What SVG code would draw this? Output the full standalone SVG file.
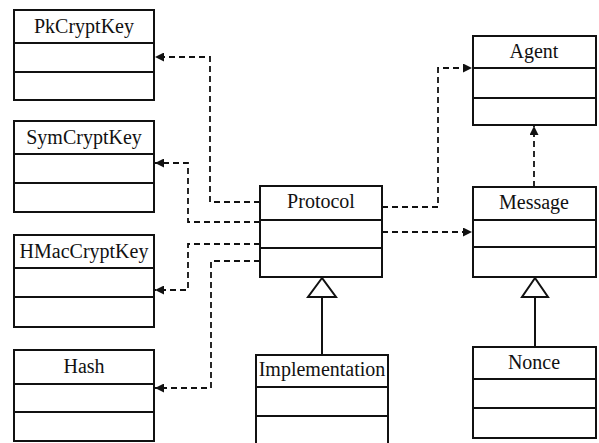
<svg xmlns="http://www.w3.org/2000/svg" width="599" height="443" viewBox="0 0 599 443">
<style>
.box rect{fill:#fff;stroke:#111;stroke-width:2}
.box line{stroke:#111;stroke-width:1.8}
.box text{font-family:"Liberation Serif","Times New Roman",serif;font-size:20px;fill:#111;text-anchor:middle}
.dep{fill:none;stroke:#111;stroke-width:1.8;stroke-dasharray:6,4}
.gen{fill:none;stroke:#111;stroke-width:2}
.tri{fill:#fff;stroke:#111;stroke-width:2}
</style>
<defs>
<marker id="ah" viewBox="0 0 10 10" refX="10" refY="5" markerWidth="9" markerHeight="9" markerUnits="userSpaceOnUse" orient="auto">
<path d="M0,0 L10,5 L0,10 z" fill="#111"/>
</marker>
</defs>
<rect width="599" height="443" fill="#fff"/>
<g id="connectors">
<polyline class="dep" points="260,202 210,202 210,57 155,57" marker-end="url(#ah)"/>
<polyline class="dep" points="260,222 188,222 188,163 155,163" marker-end="url(#ah)"/>
<polyline class="dep" points="260,244 188,244 188,290 155,290" marker-end="url(#ah)"/>
<polyline class="dep" points="260,261 211,261 211,388 155,388" marker-end="url(#ah)"/>
<polyline class="dep" points="382,207 438,207 438,68 472,68" marker-end="url(#ah)"/>
<polyline class="dep" points="382,232 472,232" marker-end="url(#ah)"/>
<polyline class="dep" points="534,187 534,126" marker-end="url(#ah)"/>
<line class="gen" x1="322" y1="297" x2="322" y2="355"/>
<polygon class="tri" points="322,278 308,297 336,297"/>
<line class="gen" x1="535" y1="297" x2="535" y2="347"/>
<polygon class="tri" points="535,278 522,297 548,297"/>
</g>
<g id="PkCryptKey" class="box">
<rect x="14" y="10" width="140" height="90"/>
<line x1="14" y1="43" x2="154" y2="43"/><line x1="14" y1="72" x2="154" y2="72"/>
<text x="84" y="33">PkCryptKey</text>
</g>
<g id="SymCryptKey" class="box">
<rect x="14" y="121" width="140" height="91"/>
<line x1="14" y1="154" x2="154" y2="154"/><line x1="14" y1="183" x2="154" y2="183"/>
<text x="84" y="144">SymCryptKey</text>
</g>
<g id="HMacCryptKey" class="box">
<rect x="14" y="235" width="140" height="92"/>
<line x1="14" y1="268" x2="154" y2="268"/><line x1="14" y1="297" x2="154" y2="297"/>
<text x="84" y="258">HMacCryptKey</text>
</g>
<g id="Hash" class="box">
<rect x="14" y="350" width="140" height="91"/>
<line x1="14" y1="384" x2="154" y2="384"/><line x1="14" y1="412" x2="154" y2="412"/>
<text x="84" y="373">Hash</text>
</g>
<g id="Protocol" class="box">
<rect x="260" y="186" width="122" height="91"/>
<line x1="260" y1="220" x2="382" y2="220"/><line x1="260" y1="248" x2="382" y2="248"/>
<text x="321" y="208">Protocol</text>
</g>
<g id="Implementation" class="box">
<rect x="256" y="355" width="132" height="95"/>
<line x1="256" y1="387" x2="388" y2="387"/><line x1="256" y1="416" x2="388" y2="416"/>
<text x="322" y="376">Implementation</text>
</g>
<g id="Agent" class="box">
<rect x="473" y="36" width="123" height="89"/>
<line x1="473" y1="68" x2="596" y2="68"/><line x1="473" y1="98" x2="596" y2="98"/>
<text x="534" y="58">Agent</text>
</g>
<g id="Message" class="box">
<rect x="473" y="187" width="123" height="90"/>
<line x1="473" y1="220" x2="596" y2="220"/><line x1="473" y1="247" x2="596" y2="247"/>
<text x="534" y="209">Message</text>
</g>
<g id="Nonce" class="box">
<rect x="473" y="347" width="123" height="91"/>
<line x1="473" y1="379" x2="596" y2="379"/><line x1="473" y1="408" x2="596" y2="408"/>
<text x="534" y="369">Nonce</text>
</g>
</svg>
